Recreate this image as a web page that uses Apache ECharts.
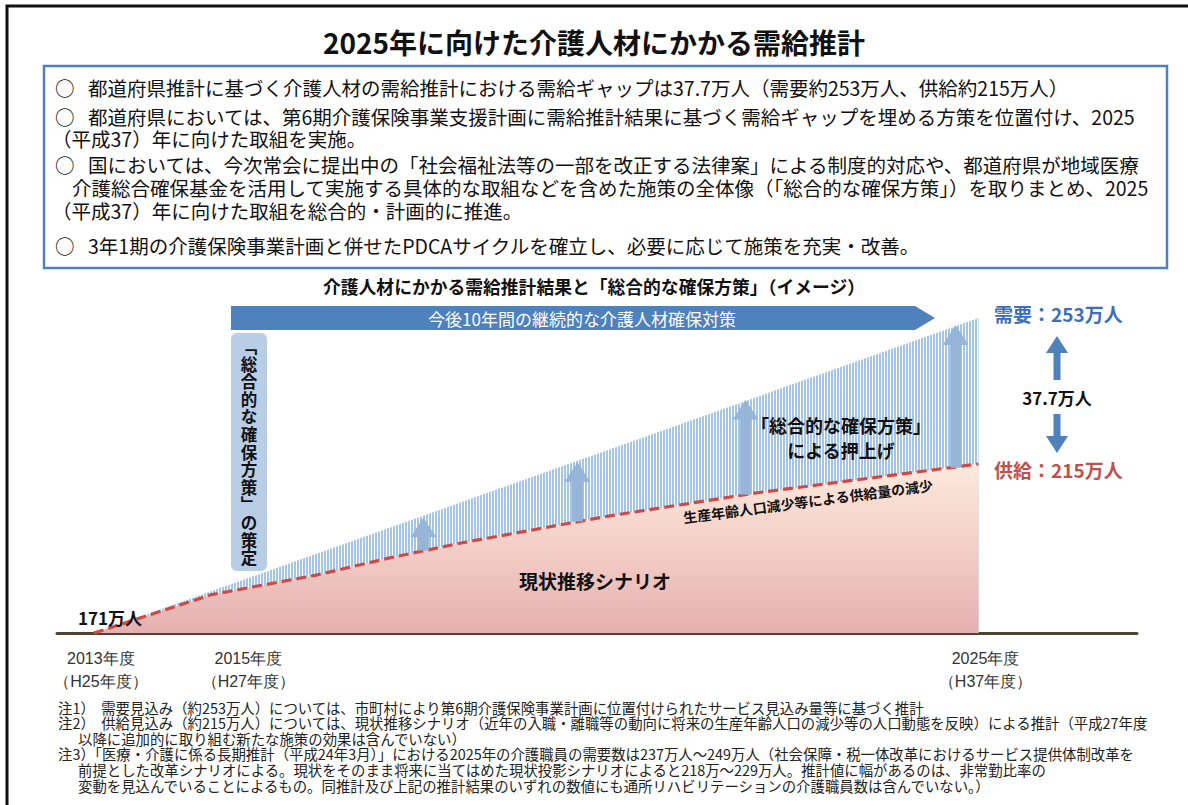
<!DOCTYPE html>
<html><head><meta charset="utf-8">
<script src="https://cdn.jsdelivr.net/npm/echarts@6/dist/echarts.min.js"></script>
<style>html,body{margin:0;padding:0;background:#fff}#c{width:1188px;height:805px}</style>
</head><body><div id="c"></div>
<script>
// ---- data ----
const supplyYears  = [2013, 2014.6, 2016, 2017, 2018, 2019, 2020, 2021, 2022, 2023, 2024, 2025];
const supplyValues = [171, 181, 186, 190.5, 194.5, 198, 201.5, 204.5, 207.5, 210, 212.5, 215];
const demandYears  = [2013, 2025];
const demandValues = [171, 253];
const pushYears = [2017.47, 2019.56, 2021.84, 2024.69];
const pushFrom  = [192.5, 200, 207, 214];
const pushTo    = [201, 215.5, 231.7, 251.2];
const tickYears  = [2013, 2015, 2025];
const tickLabels = ['2013年度\n（H25年度）', '2015年度\n（H27年度）', '2025年度\n（H37年度）'];

const FF = 'Noto Sans CJK JP';

const cv = document.createElement('canvas'); cv.width = 3; cv.height = 4;
const cx2 = cv.getContext('2d');
cx2.fillStyle = '#ffffff'; cx2.fillRect(0, 0, 3, 4);
cx2.fillStyle = '#a3c5ea'; cx2.fillRect(0, 0, 2, 4);
const stripe = { image: cv, repeat: 'repeat', imageWidth: 3, imageHeight: 4 };

function T(text, x, y, o) {
  o = o || {};
  return {
    type: 'text', x: o.px || 0, y: o.py || 0, rotation: o.rot || 0, z: 100,
    style: {
      text: text, x: o.px ? 0 : x, y: o.py ? 0 : y,
      fontSize: o.size || 14, fontWeight: o.bold ? 'bold' : 'normal', fontFamily: FF,
      fill: o.color || '#111', textAlign: o.align || 'left', textVerticalAlign: 'middle'
    }
  };
}

const verticalChars = ['﹁', '総', '合', '的', 'な', '確', '保', '方', '策', '﹂', 'の', '策', '定'];

const graphics = [
  { type: 'rect', shape: { x: 7, y: 6, width: 1200, height: 820 }, style: { fill: 'none', stroke: '#111', lineWidth: 3 }, z: 50 },
  { type: 'rect', shape: { x: 44, y: 66, width: 1123, height: 202 }, style: { fill: 'none', stroke: '#4f81bd', lineWidth: 2.5 }, z: 50 },
  T('2025年に向けた介護人材にかかる需給推計', 594, 42, { size: 28, bold: true, align: 'center' }),
  T('○', 55, 87, { size: 19.5 }), T('都道府県推計に基づく介護人材の需給推計における需給ギャップは37.7万人（需要約253万人、供給約215万人）', 88, 87, { size: 19.5 }),
  T('○', 55, 116, { size: 19.5 }), T('都道府県においては、第6期介護保険事業支援計画に需給推計結果に基づく需給ギャップを埋める方策を位置付け、2025', 88, 116, { size: 19.5 }),
  T('（平成37）年に向けた取組を実施。', 52, 138, { size: 19.5 }),
  T('○', 55, 164, { size: 19.5 }), T('国においては、今次常会に提出中の「社会福祉法等の一部を改正する法律案」による制度的対応や、都道府県が地域医療', 88, 164, { size: 19.5 }),
  T('介護総合確保基金を活用して実施する具体的な取組などを含めた施策の全体像（「総合的な確保方策」）を取りまとめ、2025', 72, 187, { size: 19.5 }),
  T('（平成37）年に向けた取組を総合的・計画的に推進。', 52, 210, { size: 19.5 }),
  T('○', 55, 245, { size: 19.5 }), T('3年1期の介護保険事業計画と併せたPDCAサイクルを確立し、必要に応じて施策を充実・改善。', 88, 245, { size: 19.5 }),
  T('介護人材にかかる需給推計結果と「総合的な確保方策」（イメージ）', 594, 286, { size: 17.8, bold: true, align: 'center' }),
  { type: 'polygon', shape: { points: [[231, 306], [915, 306], [935, 318], [915, 330], [231, 330]] }, style: { fill: '#4f81bd' }, z: 60 },
  T('今後10年間の継続的な介護人材確保対策', 582, 318, { size: 17, color: '#fff', align: 'center' }),
  { type: 'rect', shape: { x: 231, y: 333, width: 36, height: 238, r: 6 }, style: { fill: '#b9cde5' }, z: 60 }
].concat(verticalChars.map((ch, i) => T(ch, 249, 346 + i * 17.6, { size: 16.5, bold: true, align: 'center' }))).concat([
  T('需要：253万人', 994, 313, { size: 19, bold: true, color: '#3d6fb6' }),
  T('37.7万人', 1057, 397, { size: 17, bold: true, align: 'center' }),
  T('供給：215万人', 994, 469, { size: 19, bold: true, color: '#c0504d' }),
  { type: 'polygon', shape: { points: [[1057, 336], [1068, 353], [1060.5, 353], [1060.5, 380], [1053.5, 380], [1053.5, 353], [1046, 353]] }, style: { fill: '#4f81bd' }, z: 60 },
  { type: 'polygon', shape: { points: [[1057, 453], [1068, 436], [1060.5, 436], [1060.5, 414], [1053.5, 414], [1053.5, 436], [1046, 436]] }, style: { fill: '#4f81bd' }, z: 60 },
  T('171万人', 110, 617, { size: 17, bold: true, align: 'center' }),
  T('現状推移シナリオ', 595, 580, { size: 19, bold: true, align: 'center' }),
  T('生産年齢人口減少等による供給量の減少', 0, 0, { px: 808, py: 501, rot: 0.13, size: 14, bold: true, align: 'center' }),
  T('「総合的な確保方策」', 841, 425, { size: 18, bold: true, align: 'center' }),
  T('による押上げ', 841, 450, { size: 18, bold: true, align: 'center' }),
  T('注1）  需要見込み（約253万人）については、市町村により第6期介護保険事業計画に位置付けられたサービス見込み量等に基づく推計', 58, 707, { size: 14.4, color: '#222' }),
  T('注2）  供給見込み（約215万人）については、現状推移シナリオ（近年の入職・離職等の動向に将来の生産年齢人口の減少等の人口動態を反映）による推計（平成27年度', 58, 722, { size: 14.4, color: '#222' }),
  T('以降に追加的に取り組む新たな施策の効果は含んでいない）', 78, 738, { size: 14.4, color: '#222' }),
  T('注3）「医療・介護に係る長期推計（平成24年3月）」における2025年の介護職員の需要数は237万人～249万人（社会保障・税一体改革におけるサービス提供体制改革を', 58, 753, { size: 14.4, color: '#222' }),
  T('前提とした改革シナリオによる。現状をそのまま将来に当てはめた現状投影シナリオによると218万～229万人。推計値に幅があるのは、非常勤比率の', 78, 769, { size: 14.4, color: '#222' }),
  T('変動を見込んでいることによるもの。同推計及び上記の推計結果のいずれの数値にも通所リハビリテーションの介護職員数は含んでいない。）', 78, 785, { size: 14.4, color: '#222' })
]);

const chart = echarts.init(document.getElementById('c'), null, { renderer: 'svg' });
chart.setOption({
  backgroundColor: '#fff',
  animation: false,
  textStyle: { fontFamily: FF },
  grid: { left: 57, right: 51, top: 318, bottom: 172 },
  xAxis: {
    type: 'value', min: 2012.5, max: 2027.15,
    splitLine: { show: false }, axisTick: { show: false },
    axisLine: { show: true, lineStyle: { color: '#4d4431', width: 3 } },
    axisLabel: {
      customValues: tickYears, margin: 14,
      fontSize: 16, lineHeight: 23, color: '#333', fontFamily: 'sans-serif',
      formatter: v => {
        const s = tickLabels[tickYears.indexOf(v)];
        return s ? s.split('\n').map(p => '{a|' + p + '}').join('\n') : '';
      },
      rich: { a: { fontFamily: 'sans-serif', fontSize: 16, lineHeight: 23, color: '#333', fontWeight: 500, padding: [0, 0, 0, 14] } }
    }
  },
  yAxis: { type: 'value', min: 171, max: 253, show: false },
  series: [
    {
      name: '需要', type: 'line', z: 1, silent: true, symbol: 'none',
      data: demandYears.map((y, i) => [y, demandValues[i]]),
      lineStyle: { opacity: 0 },
      areaStyle: { origin: 'start', color: stripe, opacity: 1 }
    },
    {
      name: '供給', type: 'line', z: 2, silent: true, symbol: 'none',
      data: supplyYears.map((y, i) => [y, supplyValues[i]]),
      lineStyle: { color: '#cf4a47', width: 3.2, type: [10, 5] },
      areaStyle: {
        origin: 'start', opacity: 1,
        color: new echarts.graphic.LinearGradient(0, 0, 0, 1, [
          { offset: 0, color: '#fde9dd' }, { offset: 0.5, color: '#f3cec6' }, { offset: 1, color: '#e5b0b0' }
        ])
      }
    },
    {
      name: '押上げ', type: 'custom', z: 3, silent: true,
      data: pushYears.map((y, i) => [y, pushFrom[i], pushTo[i]]),
      encode: { x: 0, y: [1, 2] },
      renderItem: function (params, api) {
        const b = api.coord([api.value(0), api.value(1)]);
        const t = api.coord([api.value(0), api.value(2)]);
        const cx = b[0], yb = b[1], yt = t[1];
        const hh = Math.min(20, (yb - yt) * 0.6), hw = 13, sw = 5.5;
        return {
          type: 'polygon',
          shape: { points: [[cx - sw, yb], [cx - sw, yt + hh], [cx - hw, yt + hh], [cx, yt], [cx + hw, yt + hh], [cx + sw, yt + hh], [cx + sw, yb]] },
          style: { fill: '#95b3d7', opacity: 0.95 }
        };
      }
    }
  ],
  graphic: graphics
});
</script></body></html>
